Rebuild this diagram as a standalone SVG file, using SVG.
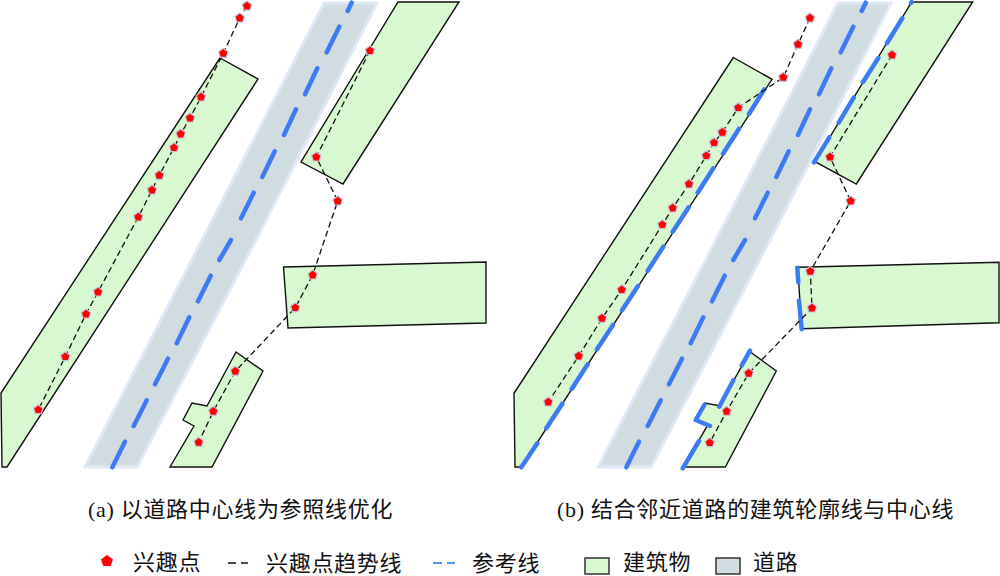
<svg xmlns="http://www.w3.org/2000/svg" width="1000" height="576" viewBox="0 0 1000 576">
<style>
.b{fill:#d8f8d0;stroke:#111;stroke-width:1.4;stroke-linejoin:miter}
.r{fill:#d0dcdf;stroke:#e0e8f8;stroke-width:3}
.c{fill:none;stroke:#3d7bf5;stroke-width:4.5;stroke-linecap:round;stroke-linejoin:round}
.t{fill:none;stroke:#111;stroke-width:1.3;stroke-dasharray:6 3.5}
.cap,.leg{font-family:"Liberation Serif","Noto Sans CJK SC",serif;fill:#111;letter-spacing:.7px;font-size:22px}
.k{fill:#d8f8d0;stroke:#333;stroke-width:1.5}
</style>
<defs>
<g id="poi"><polygon points="0,-4.2 4,-1.3 2.5,3.4 -2.5,3.4 -4,-1.3" fill="#f00" stroke="#c4c4d8" stroke-width="2.4" paint-order="stroke"/></g>
</defs>
<rect width="1000" height="576" fill="#fff"/>
<g id="road-a"><path class="r" d="M324,3H377L256,240L137,467H85L202,240Z"/></g>
<g id="road-b"><path class="r" d="M838,3H891L770,240L651,467H598L716,240Z"/></g>
<g id="building-a1"><polygon class="b" points="220,58 258,79 7,467 2,467 1,393"/></g>
<g id="building-a2"><polygon class="b" points="398,2 459,2 343,184 301,162"/></g>
<g id="building-a3"><polygon class="b" points="283.5,267 486,262 486,323 288,328"/></g>
<g id="building-a4"><polygon class="b" points="236,352 263,371 212,467 170,467 194,426 183,420 192,403 207,406"/></g>
<g id="building-b1"><polygon class="b" points="733.3,57.5 772,79.3 521.5,467 515,467 514,393.3"/></g>
<g id="building-b2"><polygon class="b" points="911.7,2 972.7,2 856.3,184 815,161.7"/></g>
<g id="building-b3"><polygon class="b" points="797.7,267.3 999,262.3 999,322.7 801.7,328.7"/></g>
<g id="building-b4"><polygon class="b" points="750,351.7 776.3,371 725.3,467 683.7,467 707.3,425.7 695.7,420 704.7,403 719.3,405.7"/></g>
<g id="connectors">
<path class="c" d="M351.7,2.7L347.7,11M339.3,26.7L326.7,52.3M317.3,68.3L305,94.3M296,109.3L284,135M274.7,151.3L262.3,177M253.7,192.7L241,218.3M231,240L219.3,260M210.7,275.7L198,301.3M189.3,317.3L176.7,343.3M168,358.7L155,384.3M146.7,400.3L133.7,426M125,441.7L112.3,467.3"/>
<path class="c" transform="translate(514 0)" d="M351.7,2.7L347.7,11M339.3,26.7L326.7,52.3M317.3,68.3L305,94.3M296,109.3L284,135M274.7,151.3L262.3,177M253.7,192.7L241,218.3M231,240L219.3,260M210.7,275.7L198,301.3M189.3,317.3L176.7,343.3M168,358.7L155,384.3M146.7,400.3L133.7,426M125,441.7L112.3,467.3"/>
<path class="c" d="M911.7,2L911,3M902.3,18.3L887,43M878.3,58L863,82M853.7,97.7L838.7,122.7M829.3,137.3L814,162.3M764.3,89.3L749,114M739,128.7L723,153.7M713.3,168.3L697.7,192.7M688.7,207.3L672.7,231.7M663.3,246.7L647.7,270.7M638,286L622,310.3M613,325L597,349.3M587.7,364.3L571.7,389M562.3,403.7L546.3,428.3M537.3,443.3L521.3,467.3M797.3,267.7L798.3,282.3M799,300.7L801.7,329.3M750,350.7L741.7,365.3M733.3,380.3L719.3,406.7M704.3,405L695.7,420L710,426M699,441L682.7,468.3"/>
<polyline class="t" points="247,6 239.7,18 223.3,53.3 201,97 190,118 180.7,134 174,147.7 159.3,175.3 152,190 138.3,217 98,292 86,314 65.3,356.7 38.3,409.7"/>
<polyline class="t" points="370,50.7 316.3,157 337.7,201 312.7,275 295.3,307.7 235.3,371.3 213.3,411.3 198.7,442.3"/>
<polyline class="t" points="810,18 798,44.3 783.3,77.3 738.3,107.7 722.3,132.3 714,142.7 706.3,155.7 689,184 672.7,208 662.3,224.7 621.7,289.7 602,318.3 578.7,356 548.3,402"/>
<polyline class="t" points="892,55 830,157 850.7,201 810.3,271.3 812,308 748.7,373.3 726.7,411.3 709.7,442.7"/>
</g>
<g id="pois-a">
<use href="#poi" x="247" y="6"/><use href="#poi" x="239.7" y="18"/><use href="#poi" x="223.3" y="53.3"/><use href="#poi" x="201" y="97"/><use href="#poi" x="190" y="118"/><use href="#poi" x="180.7" y="134"/><use href="#poi" x="174" y="147.7"/><use href="#poi" x="159.3" y="175.3"/><use href="#poi" x="152" y="190"/><use href="#poi" x="138.3" y="217"/><use href="#poi" x="98" y="292"/><use href="#poi" x="86" y="314"/><use href="#poi" x="65.3" y="356.7"/><use href="#poi" x="38.3" y="409.7"/>
<use href="#poi" x="370" y="50.7"/><use href="#poi" x="316.3" y="157"/><use href="#poi" x="337.7" y="201"/><use href="#poi" x="312.7" y="275"/><use href="#poi" x="295.3" y="307.7"/><use href="#poi" x="235.3" y="371.3"/><use href="#poi" x="213.3" y="411.3"/><use href="#poi" x="198.7" y="442.3"/>
</g>
<g id="pois-b">
<use href="#poi" x="810" y="18"/><use href="#poi" x="798" y="44.3"/><use href="#poi" x="783.3" y="77.3"/><use href="#poi" x="738.3" y="107.7"/><use href="#poi" x="722.3" y="132.3"/><use href="#poi" x="714" y="142.7"/><use href="#poi" x="706.3" y="155.7"/><use href="#poi" x="689" y="184"/><use href="#poi" x="672.7" y="208"/><use href="#poi" x="662.3" y="224.7"/><use href="#poi" x="621.7" y="289.7"/><use href="#poi" x="602" y="318.3"/><use href="#poi" x="578.7" y="356"/><use href="#poi" x="548.3" y="402"/>
<use href="#poi" x="892" y="55"/><use href="#poi" x="830" y="157"/><use href="#poi" x="850.7" y="201"/><use href="#poi" x="810.3" y="271.3"/><use href="#poi" x="812" y="308"/><use href="#poi" x="748.7" y="373.3"/><use href="#poi" x="726.7" y="411.3"/><use href="#poi" x="709.7" y="442.7"/>
</g>
<g id="captions">
<text class="cap" x="88" y="517">(a) 以道路中心线为参照线优化</text>
<text class="cap" x="557" y="517">(b) 结合邻近道路的建筑轮廓线与中心线</text>
</g>
<g id="legend">
<polygon points="107,555 113,559.4 110.7,566 103.3,566 101,559.4" fill="#f00"/>
<path d="M228,563H236M241,563H248" stroke="#111" stroke-width="1.5" fill="none"/>
<path d="M433,563H442M447,563H455" stroke="#4a90f5" stroke-width="2.2" fill="none"/>
<rect class="k" x="585" y="558" width="24" height="16"/>
<rect x="716" y="558" width="24" height="16" fill="#d0dcdf" stroke="#333" stroke-width="1.5"/>
<text class="leg" x="133" y="570">兴趣点</text>
<text class="leg" x="266" y="571">兴趣点趋势线</text>
<text class="leg" x="472" y="571">参考线</text>
<text class="leg" x="623" y="570">建筑物</text>
<text class="leg" x="753" y="570">道路</text>
</g>
</svg>
